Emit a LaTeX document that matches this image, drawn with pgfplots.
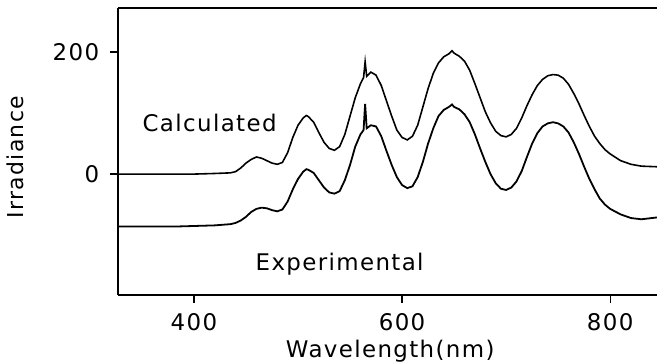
\documentclass[border=0pt]{standalone}
\usepackage{pgfplots}
\pgfplotsset{compat=1.18}
\usepackage{fontspec}
\setmainfont{DejaVu Sans}[LetterSpace=6]
\begin{document}
\fontsize{23}{27}\selectfont
\begin{tikzpicture}
\begin{axis}[
  scale only axis,
  width=539bp, height=287bp,
  xmin=327, xmax=845, ymin=-198, ymax=272,
  axis y line*=left,
  axis x line*=box,
  xtick pos=bottom,
  xtick={400,600,800}, ytick={0,200},
  tick align=outside,
  major tick length=8bp,
  tick style={line width=1.3pt, black},
  axis line style={line width=1.4pt},
  /pgf/number format/assume math mode=true,
  ticklabel style={font=\fontsize{23}{27}\selectfont},
  xticklabel style={yshift=-3bp},
  yticklabel style={xshift=-3bp},
  xlabel={Wavelength(nm)},
  ylabel={Irradiance},
  every axis x label/.style={at={(axis description cs:0.505,-0.195)}, anchor=center},
  every axis y label/.style={at={(axis description cs:-0.19,0.48)}, rotate=90, anchor=center, font=\fontsize{22}{26}\selectfont},
  clip=true,
]
\addplot[black, line width=1.6pt] coordinates {
(327,0) (350,0) (380,0) (400,0) (420,1) (435,2) (440,4) (445,10) (450,18) (455,24) (460,28) (465,26) (470,22) (475,18) (480,16) (485,19) (490,35) (495,60) (500,80) (505,92) (508,96) (510,94) (515,85) (520,68) (525,52) (530,42) (535,39) (540,45) (545,65) (550,95) (555,125) (560,148) (563,158) (564.5,184) (566,160) (570,167) (575,162) (580,145) (585,120) (590,95) (595,72) (600,60) (605,56) (610,62) (615,80) (620,110) (625,140) (630,165) (635,182) (640,192) (645,197) (648,202) (650,198) (655,193) (660,185) (665,170) (670,148) (675,125) (680,102) (685,84) (690,70) (695,63) (700,61) (705,65) (710,75) (715,92) (720,112) (725,130) (730,145) (735,155) (740,161) (745,163) (750,162) (755,157) (760,147) (765,132) (770,115) (775,96) (780,78) (785,62) (790,50) (795,40) (800,33) (810,22) (820,16) (830,13) (845,12)
};
\addplot[black, line width=1.8pt] coordinates {
(327,-86) (350,-86) (380,-86) (400,-85) (420,-84) (435,-82) (440,-80) (445,-76) (450,-70) (455,-62) (460,-57) (465,-55) (470,-56) (475,-59) (480,-61) (485,-58) (490,-45) (495,-25) (500,-8) (505,4) (508,8) (510,7) (515,2) (520,-10) (525,-22) (530,-30) (535,-32) (540,-28) (545,-10) (550,15) (555,45) (560,65) (563,72) (564.5,115) (566,75) (570,80) (575,78) (580,62) (585,38) (590,15) (595,-5) (600,-18) (605,-23) (610,-20) (615,-5) (620,20) (625,50) (630,75) (635,95) (640,105) (645,110) (648,114) (650,110) (655,106) (660,98) (665,85) (670,65) (675,42) (680,20) (685,0) (690,-15) (695,-24) (700,-26) (705,-22) (710,-12) (715,5) (720,28) (725,50) (730,67) (735,78) (740,83) (745,85) (750,83) (755,78) (760,68) (765,52) (770,33) (775,12) (780,-8) (785,-25) (790,-40) (795,-50) (800,-57) (810,-66) (820,-72) (830,-74) (845,-71)
};
\node[anchor=center] at (axis cs:415,84) {Calculated};
\node[anchor=center] at (axis cs:540,-148) {Experimental};
\end{axis}
\pgfresetboundingbox
\path (current axis.south west) ++(-118bp,-69bp) coordinate (bl);
\path (current axis.north east) ++(0bp,8bp) coordinate (tr);
\useasboundingbox (bl) rectangle (tr);
\end{tikzpicture}
\end{document}
